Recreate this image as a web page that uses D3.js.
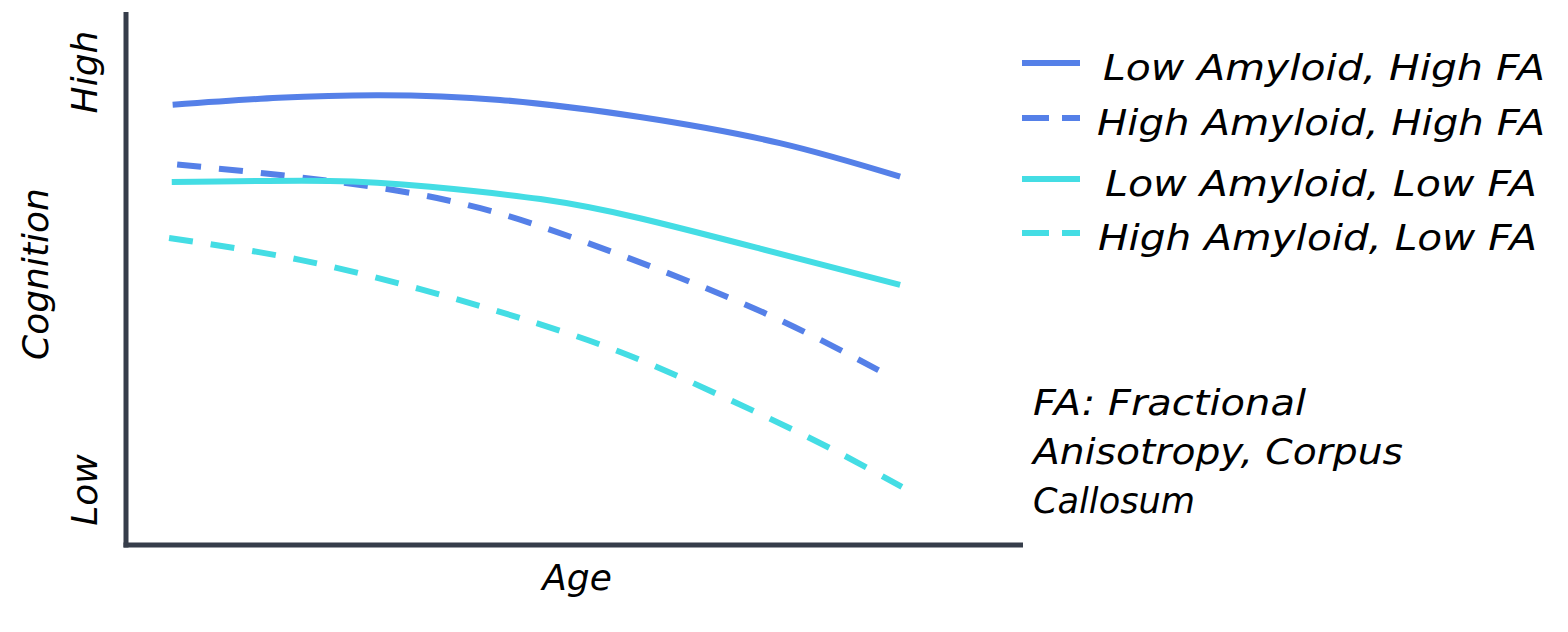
<!DOCTYPE html>
<html><head><meta charset="utf-8">
<script src="https://cdn.jsdelivr.net/npm/d3@7"></script>
<style>
html,body{margin:0;padding:0;background:#fff;}
text{font-family:"Comic Sans MS","DejaVu Sans",sans-serif;font-style:italic;fill:#000;}
</style></head>
<body><svg id="c" width="1568" height="632"></svg>
<script>
// Data (arbitrary units: age 0-100, cognition 0-100)
const seriesNames = ["Low Amyloid, High FA","High Amyloid, High FA","Low Amyloid, Low FA","High Amyloid, Low FA"];
const ageLowAmyHighFA = [5.2, 17, 28.3, 41.7, 57.3, 72.9, 86.3];
const cogLowAmyHighFA = [82.6, 83.9, 84.4, 83.5, 80.3, 75.4, 69.1];
const ageHighAmyHighFA = [5.7, 17.2, 28.3, 39.5, 50.6, 61.8, 72.9, 83.9];
const cogHighAmyHighFA = [71.4, 69.4, 67.0, 63.2, 57.2, 50.1, 42.2, 32.8];
const ageLowAmyLowFA = [5.1, 22.7, 33.9, 46.2, 57.3, 70.7, 86.3];
const cogLowAmyLowFA = [68.1, 68.3, 67.2, 64.9, 61.3, 55.6, 48.8];
const ageHighAmyLowFA = [4.8, 19.4, 32.8, 43.9, 55.1, 66.2, 77.4, 86.5];
const cogHighAmyLowFA = [57.6, 53.5, 48.0, 42.6, 36.2, 28.1, 19.1, 10.9];
const yTickLabels = ["Low","High"];
const noteLines = ["FA: Fractional","Anisotropy, Corpus","Callosum"];

const svg = d3.select("#c");
const x = d3.scaleLinear().domain([0,100]).range([126,1023]);
const y = d3.scaleLinear().domain([0,100]).range([545,12]);
const blue = "#5580e8", cyan = "#44dde4", axisCol = "#363d4a";

const series = [
  {name:seriesNames[0], ages:ageLowAmyHighFA, vals:cogLowAmyHighFA, color:blue, dash:null},
  {name:seriesNames[1], ages:ageHighAmyHighFA, vals:cogHighAmyHighFA, color:blue, dash:"24,18"},
  {name:seriesNames[2], ages:ageLowAmyLowFA, vals:cogLowAmyLowFA, color:cyan, dash:null},
  {name:seriesNames[3], ages:ageHighAmyLowFA, vals:cogHighAmyLowFA, color:cyan, dash:"24,18"}
];

const line = d3.line().x(d=>x(d[0])).y(d=>y(d[1])).curve(d3.curveNatural);
const order = [1,0,3,2];
order.forEach(i=>{
  const s = series[i];
  svg.append("path").datum(s.ages.map((a,k)=>[a,s.vals[k]]))
    .attr("d",line).attr("fill","none").attr("stroke",s.color)
    .attr("stroke-width",6).attr("stroke-dasharray",s.dash);
});

// axes
svg.append("line").attr("x1",x(0)).attr("x2",x(0)).attr("y1",y(100)).attr("y2",y(0)+2.5)
  .attr("stroke",axisCol).attr("stroke-width",5);
svg.append("line").attr("x1",x(0)-2.5).attr("x2",x(100)).attr("y1",y(0)).attr("y2",y(0))
  .attr("stroke",axisCol).attr("stroke-width",5);

// y labels
const yLabelPos = [{t:yTickLabels[0], cy:490},{t:yTickLabels[1], cy:72}];
yLabelPos.forEach(p=>{
  svg.append("text").attr("transform",`translate(97,${p.cy}) rotate(-90)`)
    .attr("text-anchor","middle").attr("font-size",36).text(p.t);
});
svg.append("text").attr("transform","translate(48,274) rotate(-90)")
  .attr("text-anchor","middle").attr("font-size",36).text("Cognition");
svg.append("text").attr("x",577).attr("y",590).attr("text-anchor","middle")
  .attr("font-size",36).text("Age");

// legend
const legY = [63,118,179,233];
const legTextX = [1103,1097,1105,1098];
const legTextW = [442,448,432,439];
series.forEach((s,i)=>{
  svg.append("line").attr("x1",1022).attr("x2",1080).attr("y1",legY[i]).attr("y2",legY[i])
    .attr("stroke",s.color).attr("stroke-width",6).attr("stroke-dasharray",s.dash?"27,13":null);
  svg.append("text").attr("x",legTextX[i]).attr("y",legY[i]+17).attr("font-size",36)
    .attr("textLength",legTextW[i]).attr("lengthAdjust","spacingAndGlyphs").text(s.name);
});

// note
const noteW = [273,370,162];
noteLines.forEach((t,i)=>{
  svg.append("text").attr("x",1033).attr("y",415+i*49).attr("font-size",36)
    .attr("textLength",noteW[i]).attr("lengthAdjust","spacingAndGlyphs").text(t);
});
</script></body></html>
